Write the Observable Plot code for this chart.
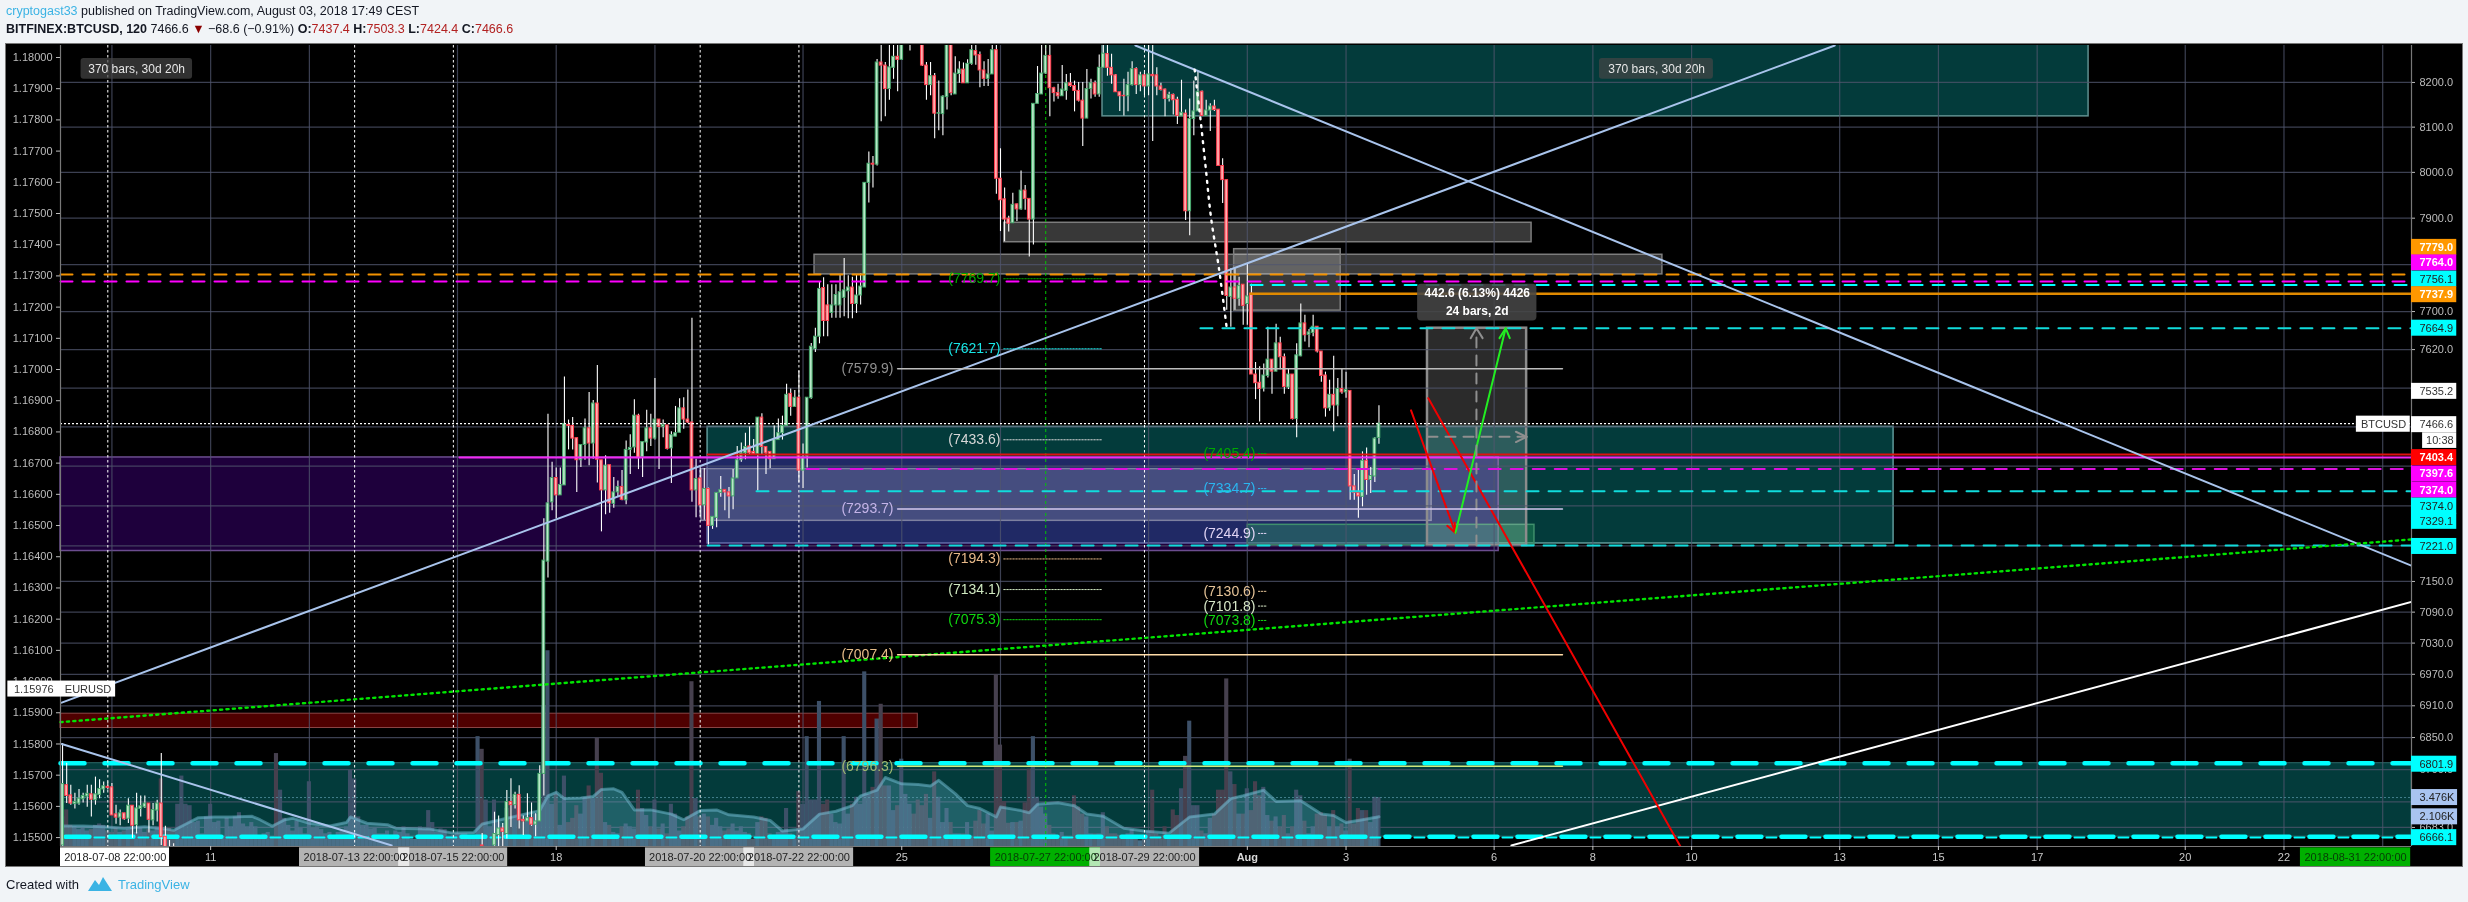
<!DOCTYPE html>
<html><head><meta charset="utf-8">
<script src="https://cdn.jsdelivr.net/npm/d3@7"></script>
<script src="https://cdn.jsdelivr.net/npm/@observablehq/plot@0.6"></script>
<style>
html,body{margin:0;padding:0;background:#f1f4f7;width:2468px;height:902px;overflow:hidden;font-family:"Liberation Sans",Arial,sans-serif;color:#131722}
#h1,#h2,#foot{position:absolute;left:6px;font-size:12.5px;white-space:nowrap}
#h1{top:4px}#h2{top:22px}
#h2 b{font-weight:700}
.r{color:#b22222}.b{color:#3bb3e4}
#wrap{position:absolute;left:5px;top:43px;width:2456px;height:822px;border:1px solid #777;border-width:1px 1px 1px 1px;background:#000;overflow:hidden}
#wrap svg{position:absolute;left:0;top:0}
#foot{top:876px;display:flex;align-items:center;font-size:13px}
#foot svg{margin:0 6px 0 9px}
</style></head><body>
<div id="h1"><span class="b">cryptogast33</span> published on TradingView.com, August 03, 2018 17:49 CEST</div>
<div id="h2"><b>BITFINEX:BTCUSD, 120</b> 7466.6 <span style="color:#8b0000">▼</span> −68.6 (−0.91%) <b>O:</b><span class="r">7437.4</span> <b>H:</b><span class="r">7503.3</span> <b>L:</b><span class="r">7424.4</span> <b>C:</b><span class="r">7466.6</span></div>
<div id="wrap"></div>
<div id="foot">Created with<svg width="24" height="16" viewBox="0 0 24 16"><path d="M0 15 L7 4 L11 9 L15 1 L24 15 Z" fill="#3bb3e4"/></svg><span class="b">TradingView</span></div>
<script>
// OHLC rows [open, high, low, close], 2-hour bars; bar 0 = 2018-07-08 00:00
const candlesEarly=[
[6650,6839,6640,6763],[6761,6802,6727,6741],[6742,6761,6724,6727],[6726,6746,6717,6730],[6727,6753,6724,6736],[6735,6746,6728,6741],[6740,6761,6720,6745],
[6744,6761,6702,6734],[6733,6776,6724,6744],[6743,6771,6736,6754],[6753,6767,6746,6759],[6758,6767,6752,6756],[6757,6764,6705,6705],[6707,6724,6689,6701],
[6701,6715,6686,6709],[6709,6709,6696,6698],[6699,6736,6690,6723],[6723,6723,6663,6686],[6687,6746,6671,6718],[6717,6741,6702,6722],[6720,6741,6718,6727],
[6727,6727,6673,6697],[6696,6727,6686,6715],[6714,6733,6693,6727],[6727,6820,6650,6665],[6666,6685,6640,6645],[6645,6659,6640,6640],[6642,6653,6640,6640]];
const rallyStart=102;
const candlesRally=[
[6650,6672,6640,6648],null,null,
[6650,6711,6645,6671],[6669,6704,6645,6681],[6681,6690,6645,6675],[6671,6751,6662,6730],[6730,6773,6683,6724],[6724,6748,6717,6743],[6743,6760,6680,6696],
[6697,6704,6668,6694],[6694,6745,6694,6700],[6700,6728,6685,6688],[6688,6708,6666,6694],[6694,6797,6694,6782],[6782,7274,6741,7191],[7189,7486,7157,7305],
[7307,7388,7290,7356],[7356,7376,7274,7321],[7321,7376,7321,7342],[7341,7563,7341,7466],[7464,7474,7413,7462],[7462,7479,7413,7436],[7437,7437,7327,7392],
[7392,7423,7377,7423],[7423,7476,7392,7457],[7457,7531,7381,7426],[7426,7514,7394,7508],[7508,7587,7346,7393],[7392,7392,7248,7331],[7331,7401,7282,7381],
[7382,7382,7285,7305],[7304,7357,7295,7327],[7327,7350,7317,7338],[7338,7371,7310,7312],[7311,7431,7302,7413],[7413,7444,7363,7417],[7418,7516,7406,7483],
[7483,7486,7373,7396],[7398,7429,7357,7429],[7428,7494,7409,7457],[7457,7486,7420,7436],[7436,7560,7433,7475],[7475,7475,7373,7460],[7460,7474,7438,7464],
[7463,7463,7413,7415],[7416,7450,7345,7443],[7440,7502,7440,7447],[7448,7518,7448,7498],[7498,7520,7455,7475],[7475,7536,7467,7469],[7469,7686,7307,7331],
[7331,7394,7276,7354],[7355,7376,7278,7301],[7301,7375,7271,7334],[7334,7336,7222,7260],[7260,7278,7253,7278],[7276,7327,7256,7326],[7326,7359,7317,7332],
[7332,7332,7290,7327],[7327,7337,7274,7319],[7319,7373,7292,7355],[7355,7420,7355,7392],[7392,7427,7388,7406],[7406,7447,7393,7419],[7420,7460,7403,7406],
[7409,7434,7403,7404],[7404,7479,7330,7479],[7479,7487,7403,7419],[7419,7419,7363,7406],[7409,7409,7375,7394],[7394,7462,7394,7433],[7433,7476,7433,7447],
[7447,7482,7433,7462],[7462,7548,7462,7526],[7528,7538,7482,7501],[7501,7535,7501,7520],[7520,7575,7346,7371],[7371,7425,7335,7398],[7400,7520,7376,7520],
[7519,7633,7517,7626],[7621,7665,7614,7647],[7647,7763,7632,7748],[7750,7772,7647,7680],[7713,7757,7647,7680],[7697,7757,7686,7713],[7713,7757,7686,7735],
[7713,7778,7686,7741]];
const peakStart=190;
const candlesPeak=[
[7729,7813,7689,7745],[7743,7776,7685,7751],[7751,7773,7685,7716],[7716,7778,7696,7734],[7734,7780,7714,7753],[7751,7977,7751,7977],[7977,8045,7933,8019],
[8019,8035,7966,8017],[8017,8252,8014,8245],[8245,8285,8112,8238],[8238,8245,8123,8185],[8185,8285,8160,8234],[8233,8290,8207,8258],[8258,8290,8179,8251],
[8251,8310,8251,8290],[8300,8320,8290,8310],[8300,8320,8271,8310],[8310,8330,8295,8300],[8300,8320,8290,8295],[8295,8330,8236,8238],[8238,8245,8160,8194],
[8194,8245,8170,8214],[8214,8220,8074,8130],[8130,8203,8092,8131],[8129,8170,8081,8168],[8167,8310,8138,8290],[8290,8310,8170,8176],[8173,8258,8173,8220],
[8219,8247,8198,8229],[8229,8244,8198,8198],[8198,8251,8198,8242],[8242,8290,8239,8273],[8271,8290,8239,8261],[8262,8269,8188,8227],[8227,8247,8191,8208],
[8208,8252,8191,8218],[8218,8285,8218,8273],[8273,8285,7952,7986],[7986,8052,7871,7939],[7941,7966,7849,7897],[7899,7904,7870,7888],[7889,7954,7889,7929],
[7930,7931,7893,7919],[7919,8003,7917,7960],[7960,7971,7917,7942],[7942,7942,7816,7897],[7897,8152,7842,8152],[8152,8236,8152,8174],[8173,8285,8173,8220],
[8220,8290,8218,8260],[8260,8285,8123,8187],[8187,8189,8156,8176],[8176,8196,8162,8169],[8169,8238,8169,8184],[8181,8218,8160,8198],[8198,8220,8189,8192],
[8192,8203,8134,8181],[8181,8200,8156,8159],[8159,8200,8057,8119],[8119,8229,8119,8185],[8185,8207,8163,8198],[8198,8203,8167,8173],[8173,8262,8167,8233],
[8233,8285,8233,8265],[8264,8285,8214,8233],[8233,8264,8196,8216],[8216,8218,8178,8178],[8178,8178,8135,8169],[8170,8207,8125,8169],[8169,8223,8134,8194],
[8194,8247,8192,8230],[8230,8233,8173,8194],[8194,8223,8179,8216],[8216,8222,8170,8191],[8191,8285,8170,8218],[8217,8300,8068,8214],[8216,8233,8170,8191],
[8191,8198,8181,8183],[8184,8185,8123,8163],[8163,8178,8156,8172],[8172,8174,8127,8160],[8161,8167,8106,8125],[8124,8205,8124,8132],[8130,8138,7895,7915],
[7915,8163,7862,8118],[8118,8203,8081,8135],[8135,8225,8135,8179],[8179,8181,8125,8125],[8125,8160,8125,8137],[8137,8152,8090,8146],[8146,8160,8135,8138],
[8139,8139,8014,8014],[8014,8030,7932,7983],[7983,7983,7703,7733],[7731,7791,7667,7751],[7751,7791,7703,7727],[7727,7773,7711,7754]];
const dropStart=287;
const candlesDrop=[
[7757,7757,7671,7712],[7716,7801,7671,7732],[7738,7758,7568,7568],[7568,7593,7516,7550],[7551,7584,7470,7538],[7539,7590,7532,7566],[7565,7667,7561,7599],
[7599,7599,7527,7574],[7574,7673,7574,7633],[7633,7646,7578,7604],[7604,7611,7527,7542],[7541,7579,7537,7568],[7568,7568,7474,7476],[7476,7632,7438,7608],
[7606,7716,7605,7675],[7675,7692,7636,7650],[7651,7662,7624,7656],[7655,7692,7647,7668],[7668,7668,7613,7616],[7616,7616,7552,7565],[7566,7573,7480,7498],
[7498,7556,7492,7526],[7526,7606,7450,7504],[7504,7560,7481,7538],[7538,7580,7527,7531],[7531,7573,7519,7536],[7534,7534,7311,7339],[7339,7363,7311,7326],
[7326,7375,7275,7319],[7318,7409,7298,7391],[7391,7417,7321,7352],[7352,7377,7325,7360],[7359,7438,7347,7436],[7437.4,7503.3,7424.4,7466.6]];

// volume in thousands, bar 0 onward
const volumesA=[2.1,2.6,1.5,1.4,1.2,1.3,1.1,1.2,1.5,1.6,1.5,1.1,1.0,1.3,1.0,1.1,1.2,1.4,1.0,1.3,1.0,1.2,1.1,1.4,4.8,1.2,1.3,1.1,
3.0,5.0,3.0,2.9,1.7,1.8,.9,2.1,3.0,1.7,1.8,.7,2.0,1.4,2.1,2.4,1.6,1.4,1.7,1.4,.5,.9,1.0,.7,6.6,4.0,2.0,1.5,1.1,1.8,1.3,.9,4.6,1.3,1.4,1.2,.9,1.0,.7,1.0,1.1,1.4,5.4,4.8];
const volumesB=[2.1,1.5,1.5,1.25,1.3,.9,.9,1.1,.8,1.1,1.0,1.4,.9,.5,.5,1.4,1.25,2.55,1.7,1.0,1.25,1.2,.7,.8,.9,.9,.9,.5,.7,7.8,6.9,3.3,1.4,3.3,1.7,1.4,2.7,3.0,3.6,3.5,1.7,2.1,2.0,2.3,3.1,10,13.9,3.0,3.7,1.5,5.0,1.7,2.0,2.9,2.3,3.5,4.3,3.4,7.7,5.2,1.7,1.5,1.0,.9,1.4,1.6,1.4,1.25,4.0,2.7,2.2,1.4,3.3,1.25,1.6,.9,3.0,2.3,1.1,1.4,2.1,11.7,3.4,2.1,2.3,2.1,1.5,2.0,1.4,1.1,1.25,1.6,1.1,1.4,1.0,.9,.5,1.7,2.1,2.0,.9,.8,1.0,1.1,2.7,.9,.7,3.9,3.0,7.8,3.3,3.3,10.3,3.0,3.3,2.3,1.7,1.6,7.8,2.3,3.0,3.5,3.0,12.4];
const volumesC=[3.7,4.2,9.05,10.1,4.3,4.3,2.55,2.9,6.2,3.7,3.0,2.3,3.3,2.9,3.7,2.0,5.3,3.5,1.7,2.7,1.7,.9,.9,.9,1.7,.7,1.8,2.55,1.6,2.3,1.1,12.2,7.2,3.2,1.65,1.7,1.7,1.8,3.1,5.5,7.8,3.5,2.8,2.3,1.5,.9,.7,1.0,.7,.7,3.6,2.8,2.3,2.1,.9,.9,.9,2.4,1.4,.9,.9,.8,.7,.9,1.2,.8,.4,.5,1.1,4.0,.9,.7,1.4,.7,2.6,2.2,4.1,6.4,8.9,2.9,2.9,1.1,.9,2.0,2.3,4.0,4.0,11.9,5.3,4.4,2.3,2.3,4.1,2.55,4.6,3.6,4.2,2.2,1.8,2.1,1.4,2.2,.9,1.4,4.0,3.6,1.8,.9,1.4,2.3,2.4,2.2,1.4,2.55,1.4,1.6,1.1,6.2,1.6,2.7,2.55,2.55,1.7,3.5,3.476];
const downVolumeHidden=[52];
const maBars=[0,5,10,15,20,25,27,30,33,37,41,46,48,51,54,56,60,65,69,70,74,79,81,89,95,100,102,108,116,118,120,122,126,129,131,134,136,139,143,148,151,155,159,162,168,172,175,180,184,188,192,194,198,200,204,208,211,213,217,220,223,227,228,233,235,237,242,246,249,253,258,263,269,274,280,284,287,292,295,301,306,309,312,316,320];
const maVols=[1.45,1.45,1.4,1.3,1.4,1.25,1.15,1.6,2.05,2.1,2.1,2.15,1.9,1.45,1.9,2.0,1.65,1.45,1.7,2.1,1.65,1.55,1.3,1.25,.95,1.0,1.6,2.0,2.55,3.6,3.85,3.4,3.45,3.55,4.05,4.1,3.85,2.6,2.6,2.3,1.9,2.55,2.6,2.25,2.1,1.85,1.1,1.25,2.3,2.5,2.9,3.6,4.0,4.9,4.45,4.4,4.3,4.7,3.75,2.9,2.7,2.1,2.8,2.55,2.4,3.0,3.1,2.9,2.3,2.15,1.3,1.1,.95,2.1,2.3,3.4,3.6,4.0,3.2,3.25,2.3,2.2,1.7,1.9,2.106];

const rightTicks=[8200,8100,8000,7900,7800,7700,7620,7150,7090,7030,6970,6910,6850,6790,6683];
const gridPrices=[8200,8100,8000,7900,7800,7700,7620,7540,7460,7380,7300,7220,7150,7090,7030,6970,6910,6850,6790,6730,6683];
const gridBars=[12,36,60,96,120,144,180,204,228,264,288,312,348,372,396,432,456,480,516,540,564];
const xTickBars=[36,120,204,312,348,372,396,432,456,480,516,540];
const xTickLabels=["11","18","25","3","6","8","10","13","15","17","20","22"];
const eurLabels=["1.18000","1.17900","1.17800","1.17700","1.17600","1.17500","1.17400","1.17300","1.17200","1.17100","1.17000","1.16900","1.16800","1.16700","1.16600","1.16500","1.16400","1.16300","1.16200","1.16100","1.16000","1.15900","1.15800","1.15700","1.15600","1.15500"];
const dateDashBars=[11,71,95,155,179,263];
const dateGreenBar=239;
const fibSolid=[[7579.9,"#8f8f8f","#bdbdbd"],[7293.7,"#c4b4e8","#d4c8ee"],[7007.4,"#e6bc88","#ffdca8"],[6796.3,"#9dbb70","#cfe87c"]];
const fibLong=[[7769.7,"#00a800"],[7621.7,"#18e6e6"],[7433.6,"#d8d8d8"],[7194.3,"#e6b888"],[7134.1,"#cfe8c0"],[7075.3,"#10d810"]];
const fibShort=[[7405.4,"#00a800"],[7334.7,"#2bb5f0"],[7244.9,"#e0d4f4"],[7130.6,"#e6c498"],[7101.8,"#d8e8c8"],[7073.8,"#10d810"]];
const flags=[
["7779.0",7779,-27,"#ff9800","#fff"],["7764.0",7764,-18.5,"#ff00ff","#fff"],["7756.1",7756.1,-6,"#00ffff","#222"],["7737.9",7737.9,1,"#ff9800","#fff"],
["7664.9",7664.9,0,"#00ffff","#222"],["7535.2",7535.2,1,"#fff","#333"],["7466.6",7466.6,1,"#fff","#333"],["7403.4",7403.4,3,"#ff0000","#fff"],
["7397.6",7397.6,16.5,"#ff00ff","#fff"],["7374.0",7374,21,"#ff00ff","#fff"],["7374.0",7374,37,"#00ffff","#222"],["7329.1",7329.1,30,"#00ffff","#222"],
["7221.0",7221,1,"#00ffff","#222"],["6801.9",6801.9,1,"#00ffff","#222"],["6666.1",6666.1,1,"#00ffff","#222"]];
const dateBoxes=[
["2018-07-08 22:00:00",-0.5,26,12.8,"#ffffff",1],["2018-07-13 22:00:00",57.6,84.4,71,"#ffffff",.7],["2018-07-15 22:00:00",81.7,108.2,95,"#ffffff",.7],
["2018-07-20 22:00:00",141.7,168.2,155,"#ffffff",.7],["2018-07-22 22:00:00",165.6,192.3,179,"#ffffff",.7],["2018-07-27 22:00:00",225.6,252.3,239,"#00b000",1],
["2018-07-29 22:00:00",249.7,276.4,263,"#ffffff",.7],["2018-08-31 22:00:00",544,570.8,557.4,"#00b000",1]];

const bottomPrice=6648.1, topPrice=8283.6, xMin=-0.5, xMax=571;
const volY=k=>bottomPrice*Math.exp(k*0.003867);
const eurY=e=>topPrice*Math.exp(-(12+(1.18-e)*31240)/3646);

const toRows=(rows,start)=>rows.map((r,k)=>r&&({bar:start+k,o:r[0],h:r[1],l:r[2],c:r[3]})).filter(Boolean);
const candles=[...toRows(candlesEarly,0),...toRows(candlesRally,rallyStart),...toRows(candlesPeak,peakStart),...toRows(candlesDrop,dropStart)];
const upByBar=new Map(candles.map(c=>[c.bar,c.c>=c.o]));
const volumes=[...volumesA,...volumesB,...volumesC].map((v,i)=>({bar:i,v,down:upByBar.has(i)?!upByBar.get(i):downVolumeHidden.includes(i)}));
const ma=maBars.map((b,i)=>({bar:b,v:maVols[i]}));

const box=(x1,x2,p1,p2,o)=>Plot.rect([{x1,x2,p1,p2}],{x1:"x1",x2:"x2",y1:"p1",y2:"p2",...o});
const seg=(pts,o)=>Plot.line(pts,{x:d=>d[0],y:d=>d[1],...o});
const hline=(a,b,p,o)=>seg([[a,p],[b,p]],o);
const label=(x,p,text,o)=>Plot.text([{x,p,text}],{x:"x",y:"p",text:"text",...o});

const eurMap=new Map(eurLabels.map(l=>[eurY(+l),l]));
const xMap=new Map(xTickBars.map((b,i)=>[b,xTickLabels[i]]));

const CY="#00ffff",MG="#ff00ff",OR="#f39200";
const marks=[
  // filled zones
  box(xMin,xMax,6801.9,6666.1,{fill:"rgba(5,107,107,.55)",stroke:"#2c6a6a",strokeWidth:1}),
  box(252.8,492.5,8300,8124,{fill:"rgba(5,107,107,.55)",stroke:"#5f8f8f",strokeWidth:1.5,clip:true}),
  box(156.8,445.1,7460,7225,{fill:"rgba(5,107,107,.55)",stroke:"#5f9a9a",strokeWidth:1.5}),
  box(xMin,349.1,7397.6,7210,{fill:"rgba(100,0,200,.30)",stroke:"#6b4d8f",strokeWidth:1.5}),
  box(155.3,332.8,7374,7270,{fill:"rgba(255,255,255,.17)",stroke:"#7d80a0",strokeWidth:1.5}),
  box(xMin,207.9,6895,6868,{fill:"#4f0000",stroke:"#8c4545",strokeWidth:1}),
  box(228.9,357.1,7890,7848,{fill:"rgba(255,255,255,.22)",stroke:"#7d7d7d",strokeWidth:1.5}),
  box(182.8,388.9,7821,7779,{fill:"rgba(255,255,255,.22)",stroke:"#7d7d7d",strokeWidth:1.5}),
  box(284.8,310.7,7833,7702,{fill:"rgba(255,255,255,.22)",stroke:"#7d7d7d",strokeWidth:1.5}),
  box(288.1,357.8,7262,7221,{fill:"rgba(50,180,100,.32)",stroke:"#3f8f6c",strokeWidth:1.5}),
  box(331.8,355.9,7664.9,7221,{fill:"rgba(255,255,255,.17)",stroke:"#8c8c8c",strokeWidth:2.5}),
  // grid
  Plot.ruleY(gridPrices,{stroke:"rgba(80,85,110,.75)",strokeWidth:1.2}),
  Plot.ruleX(gridBars,{stroke:"rgba(80,85,110,.75)",strokeWidth:1.2}),
  // volume
  Plot.rect(volumes,{x1:d=>d.bar-.5,x2:d=>d.bar+.5,y1:volY(0),y2:d=>volY(d.v),fill:d=>d.down?"#46404e":"#3d5068",mixBlendMode:"screen",clip:true}),
  Plot.areaY(ma,{x:"bar",y1:volY(0),y2:d=>volY(d.v),fill:"rgba(105,195,220,.28)",clip:true}),
  Plot.line(ma,{x:"bar",y:d=>volY(d.v),stroke:"rgba(125,200,225,.45)",strokeWidth:3,clip:true}),
  Plot.ruleY([volY(3.476)],{stroke:"#5f9fb0",strokeOpacity:.7,strokeDasharray:"2 2"}),
  // levels
  hline(xMin,xMax,6801.9,{stroke:CY,strokeWidth:4.5,strokeDasharray:"24 20"}),
  hline(xMin+1.2,xMax,6666.1,{stroke:CY,strokeWidth:4.5,strokeDasharray:"24 20"}),
  hline(xMin+1.2,xMax,6664.6,{stroke:CY,strokeWidth:2,strokeDasharray:"10 34",strokeDashoffset:-29}),
  Plot.ruleX(dateDashBars,{stroke:"#fff",strokeDasharray:"2.5 2.5",strokeWidth:1}),
  Plot.ruleX([dateGreenBar],{stroke:"#00c800",strokeDasharray:"3 3",strokeWidth:1}),
  // candles
  Plot.ruleX(candles,{x:"bar",y1:"l",y2:"h",stroke:"#fff",strokeWidth:1.1,clip:true}),
  Plot.rect(candles,{x1:d=>d.bar-.33,x2:d=>d.bar+.33,y1:"o",y2:"c",fill:d=>d.c>=d.o?"#b9e8c8":"#ffb0b0",stroke:d=>d.c>=d.o?"#46a86c":"#ff3c4e",strokeWidth:1,clip:true}),
  // level lines
  Plot.ruleY([7466.6],{stroke:"#fff",strokeDasharray:"2 2",strokeWidth:1.2}),
  hline(xMin,xMax,7779,{stroke:OR,strokeWidth:2,strokeDasharray:"12 10"}),
  hline(xMin,xMax,7764,{stroke:MG,strokeWidth:2,strokeDasharray:"12 10"}),
  hline(288.8,xMax,7756.1,{stroke:CY,strokeWidth:2,strokeDasharray:"12 10"}),
  hline(288.8,xMax,7737.9,{stroke:"#e08a00",strokeWidth:2.4}),
  hline(276.6,xMax,7664.9,{stroke:"#10dcdc",strokeWidth:2,strokeDasharray:"12 10"}),
  hline(156.8,xMax,7403.4,{stroke:"#e01010",strokeWidth:2}),
  hline(96.5,xMax,7397.6,{stroke:"#f428f4",strokeWidth:2}),
  hline(180.9,xMax,7374,{stroke:"#dc10dc",strokeWidth:2,strokeDasharray:"12 10"}),
  hline(168.7,xMax,7329.1,{stroke:"#10dcdc",strokeWidth:2,strokeDasharray:"12 10"}),
  hline(156.8,xMax,7221,{stroke:"#10dcdc",strokeWidth:2,strokeDasharray:"12 10"}),
  // trend lines
  seg([[-0.2,6916],[430.8,topPrice]],{stroke:"#a9c4ec",strokeWidth:2,clip:true}),
  seg([[260.8,topPrice],[571,7181]],{stroke:"#a9c4ec",strokeWidth:2,clip:true}),
  seg([[-0.2,6838],[80,6650]],{stroke:"#a9c4ec",strokeWidth:2,clip:true}),
  seg([[352.2,6650],[571,7110]],{stroke:"#fff",strokeWidth:2,clip:true}),
  seg([[xMin,6879],[571,7233]],{stroke:"#00e400",strokeWidth:2.4,strokeDasharray:"2.2 4.2"}),
  seg([[275.2,8229],[276.6,8119],[277.9,8009],[279.2,7900],[281.1,7792],[283,7664.9]],{stroke:"#fff",strokeWidth:2.4,strokeDasharray:"2 6",curve:"catmull-rom"}),
  seg([[332,7519],[393.3,6648]],{stroke:"#f00000",strokeWidth:2,clip:true}),
  seg([[327.8,7494],[338.6,7246]],{stroke:"#f00000",strokeWidth:2}),
  seg([[336.6,7260],[338.6,7246],[338.4,7266]],{stroke:"#f00000",strokeWidth:2,fill:"none"}),
  seg([[338.6,7246],[350.8,7664.9]],{stroke:"#22ee22",strokeWidth:2}),
  seg([[349.3,7644],[350.8,7664.9],[351.8,7644]],{stroke:"#22ee22",strokeWidth:2,fill:"none"}),
  seg([[343.7,7221],[343.7,7664.9]],{stroke:"#8f8f8f",strokeWidth:2,strokeDasharray:"10 8"}),
  seg([[342.3,7644],[343.7,7664.9],[345.2,7644]],{stroke:"#8f8f8f",strokeWidth:2,fill:"none"}),
  hline(331.8,355.9,7439.6,{stroke:"#8f8f8f",strokeWidth:2,strokeDasharray:"10 8"}),
  seg([[353.3,7450],[355.9,7439.6],[353.3,7429]],{stroke:"#8f8f8f",strokeWidth:2,fill:"none"}),
  // fib levels
  ...fibSolid.flatMap(([v,c,l])=>[hline(203,364.6,v,{stroke:l,strokeWidth:1.6}),label(202,v,`(${v.toFixed(1)})`,{fontSize:14,fill:c,textAnchor:"end"})]),
  ...fibLong.flatMap(([v,c])=>[hline(228.8,252.6,v,{stroke:c,strokeWidth:1,strokeDasharray:"1.5 1.5"}),label(228,v,`(${v.toFixed(1)})`,{fontSize:14,fill:c,textAnchor:"end"})]),
  ...fibShort.flatMap(([v,c])=>[hline(290.7,292.7,v,{stroke:c,strokeWidth:1,strokeDasharray:"1.5 1.5"}),label(290,v,`(${v.toFixed(1)})`,{fontSize:14,fill:c,textAnchor:"end"})]),
  // measuring labels
  box(329.4,358.4,7758,7680,{fill:"rgba(70,70,70,.88)",rx:4}),
  label(343.9,7738,"442.6 (6.13%) 4426",{fill:"#fff",fontSize:12,fontWeight:700}),
  label(343.9,7700.5,"24 bars, 2d",{fill:"#fff",fontSize:12,fontWeight:700}),
  box(4.5,31.6,8254,8207,{fill:"rgba(70,70,70,.7)",rx:3}),
  label(18,8230,"370 bars, 30d 20h",{fill:"#e6e6e6",fontSize:12}),
  box(373.6,401.3,8254,8207,{fill:"rgba(70,70,70,.7)",rx:3}),
  label(387.5,8230,"370 bars, 30d 20h",{fill:"#e6e6e6",fontSize:12}),
  // frame and axes
  Plot.ruleX([xMin,xMax],{stroke:"#787878",strokeWidth:1.2}),
  Plot.ruleY([bottomPrice],{stroke:"#787878",strokeWidth:1.2}),
  Plot.axisY(rightTicks,{anchor:"right",tickFormat:d=>d.toFixed(1),tickSize:3,tickPadding:5,color:"#bdbdbd",label:null,fontSize:11}),
  Plot.axisY([...eurMap.keys()],{anchor:"left",tickFormat:d=>eurMap.get(d),tickSize:4,tickPadding:4,color:"#bdbdbd",label:null,fontSize:11}),
  Plot.axisX(xTickBars,{anchor:"bottom",tickFormat:d=>xMap.get(d),tickSize:4,tickPadding:3,color:"#c8c8c8",label:null,fontSize:11}),
  label(288,6628,"Aug",{fill:"#d8d8d8",fontSize:11,fontWeight:700}),
  Plot.ruleX([288],{y1:bottomPrice,y2:6641,stroke:"#c8c8c8"}),
  // date flags on the time axis
  ...dateBoxes.flatMap(([t,a,b,c,f,op])=>[box(a,b,6645.6,6610,{fill:f,fillOpacity:op})]),
  ...dateBoxes.map(([t,a,b,c,f])=>label(c,6628,t,{fill:f==="#00b000"?"#063b06":"#222",fontSize:11})),
  // price flags
  ...flags.flatMap(([t,v,dy,bg,fg])=>[
    Plot.rect([{v}],{x1:()=>xMax,x2:()=>582,y1:"v",y2:"v",insetTop:-8,insetBottom:-8,dy,fill:bg}),
    Plot.text([{v,t}],{x:()=>xMax,y:"v",text:"t",dx:8,dy,textAnchor:"start",fill:fg,fontSize:11,fontWeight:fg==="#fff"?700:400})]),
  box(557.6,570.7,7482,7449,{fill:"#fff"}),
  label(564.2,7465,"BTCUSD",{fill:"#333",fontSize:11}),
  box(573.7,582,7448,7416,{fill:"#fff"}),
  label(577.9,7432,"10:38",{fill:"#333",fontSize:11}),
  Plot.rect([{v:volY(3.476)}],{x1:()=>xMax,x2:()=>582.2,y1:"v",y2:"v",insetTop:-8,insetBottom:-8,fill:"#a9c4f0"}),
  Plot.text([{v:volY(3.476)}],{x:()=>xMax,y:"v",text:()=>"3.476K",dx:8,textAnchor:"start",fill:"#222",fontSize:11}),
  Plot.rect([{v:volY(2.106)}],{x1:()=>xMax,x2:()=>582.2,y1:"v",y2:"v",insetTop:-8,insetBottom:-8,fill:"#a9c4f0"}),
  Plot.text([{v:volY(2.106)}],{x:()=>xMax,y:"v",text:()=>"2.106K",dx:8,textAnchor:"start",fill:"#222",fontSize:11}),
  // EURUSD overlay flag
  Plot.rect([{v:eurY(1.15976)}],{x1:()=>-13.3,x2:()=>12.9,y1:"v",y2:"v",insetTop:-8,insetBottom:-8,fill:"#fff"}),
  Plot.text([{v:eurY(1.15976)}],{x:()=>-7,y:"v",text:()=>"1.15976",fill:"#333",fontSize:11}),
  Plot.text([{v:eurY(1.15976)}],{x:()=>6.2,y:"v",text:()=>"EURUSD",fill:"#333",fontSize:11}),
];

const chart=Plot.plot({
  width:2456,height:822,marginLeft:54,marginRight:51,marginTop:1,marginBottom:20,
  style:{background:"#000",fontFamily:"'Liberation Sans',Arial,sans-serif",fontSize:"11px",overflow:"visible"},
  x:{type:"linear",domain:[xMin,xMax]},
  y:{type:"log",domain:[bottomPrice,topPrice]},
  marks
});
document.getElementById("wrap").appendChild(chart);
</script>
</body></html>
